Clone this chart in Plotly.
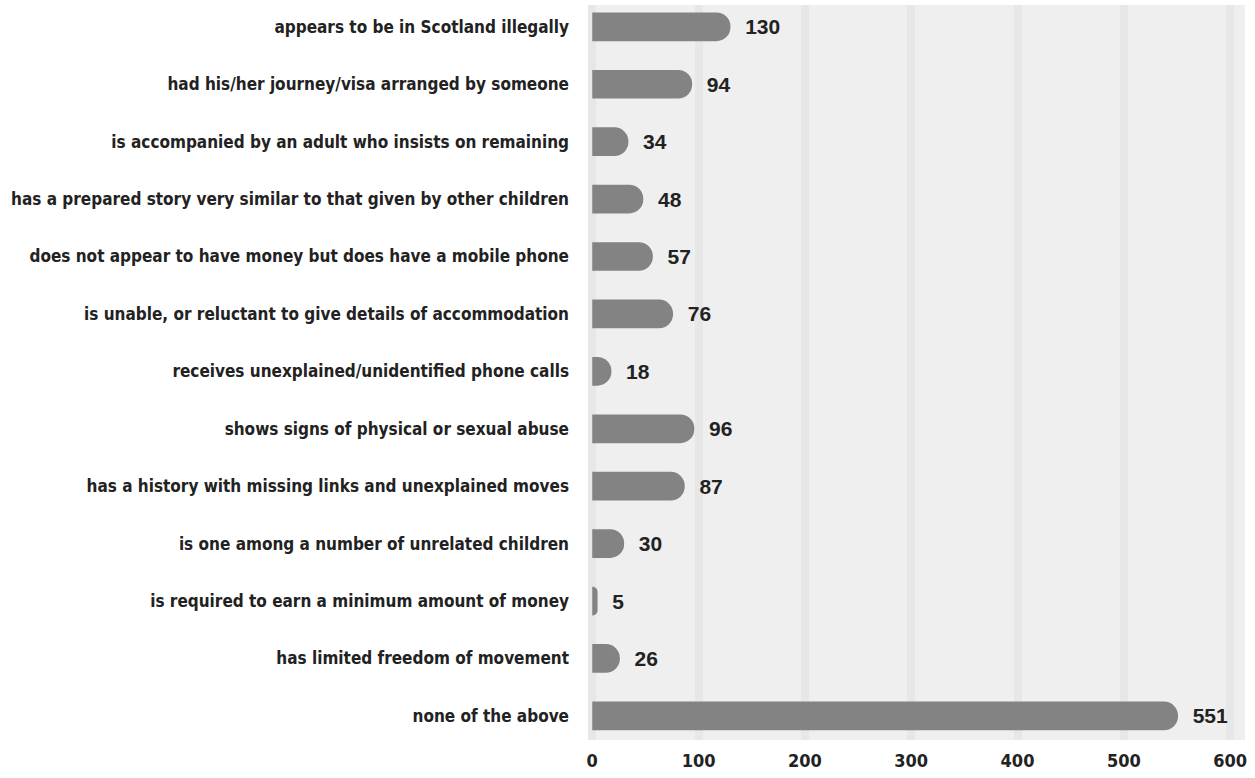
import plotly.graph_objects as go

categories = [
    "appears to be in Scotland illegally",
    "had his/her journey/visa arranged by someone",
    "is accompanied by an adult who insists on remaining",
    "has a prepared story very similar to that given by other children",
    "does not appear to have money but does have a mobile phone",
    "is unable, or reluctant to give details of accommodation",
    "receives unexplained/unidentified phone calls",
    "shows signs of physical or sexual abuse",
    "has a history with missing links and unexplained moves",
    "is one among a number of unrelated children",
    "is required to earn a minimum amount of money",
    "has limited freedom of movement",
    "none of the above",
]
values = [130, 94, 34, 48, 57, 76, 18, 96, 87, 30, 5, 26, 551]
tick_vals = [0, 100, 200, 300, 400, 500, 600]

label_font = "DejaVu Sans Condensed, Liberation Sans Narrow, sans-serif"

fig = go.Figure(
    go.Bar(
        x=values,
        y=categories,
        orientation="h",
        marker=dict(color="#838383", line=dict(width=0)),
        width=0.5,
        text=[f"  {v}" for v in values],
        textposition="outside",
        textfont=dict(family="Liberation Sans, Arial, sans-serif", size=21, color="#222222", weight="bold"),
        cliponaxis=False,
        hoverinfo="skip",
    )
)

fig.update_layout(
    width=1255,
    height=778,
    margin=dict(l=588, r=10, t=5, b=38),
    paper_bgcolor="white",
    plot_bgcolor="#efefef",
    barcornerradius=14,
    showlegend=False,
    font=dict(family=label_font, color="#222222"),
)

fig.update_xaxes(
    range=[-4, 614],
    tickvals=tick_vals,
    ticktext=[str(t) for t in tick_vals],
    tickfont=dict(family=label_font, size=18, color="#222222", weight="bold"),
    showgrid=True,
    gridcolor="rgba(0,0,0,0.03)",
    gridwidth=8,
    zeroline=False,
    showline=False,
    ticks="",
    ticklabelstandoff=8,
)

fig.update_yaxes(
    categoryorder="array",
    categoryarray=categories,
    range=[12.42, -0.38],
    tickfont=dict(family=label_font, size=17, color="#222222", weight="bold"),
    showgrid=False,
    zeroline=False,
    showline=False,
    ticks="",
    ticklabelstandoff=18,
)

fig.write_html("out.html")
